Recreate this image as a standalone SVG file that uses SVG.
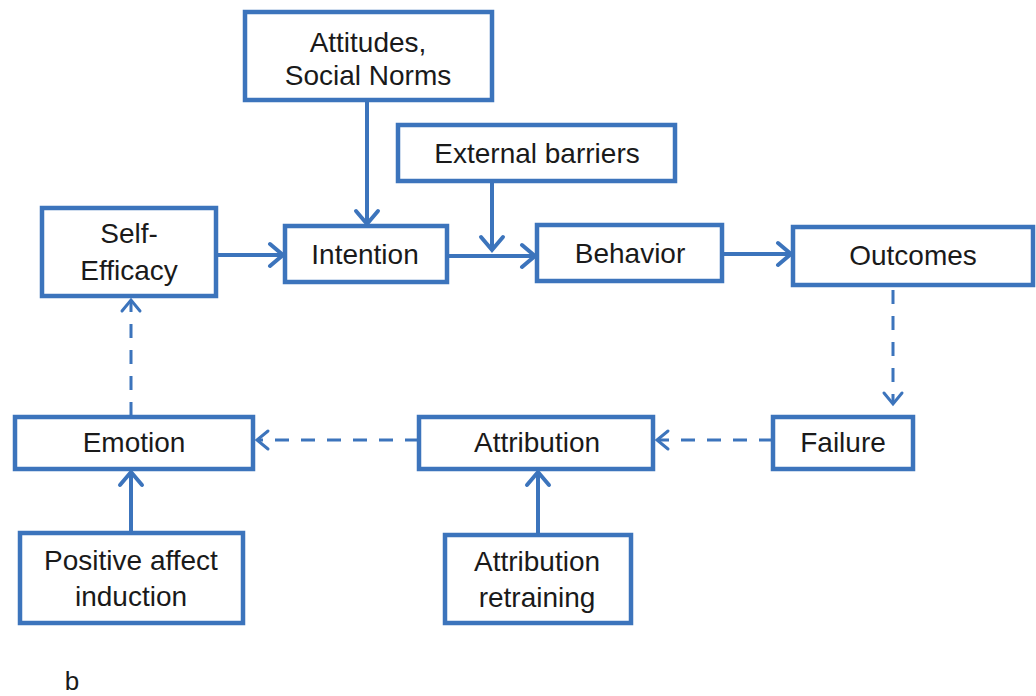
<svg xmlns="http://www.w3.org/2000/svg" width="1036" height="696" viewBox="0 0 1036 696">
<style>
.box{fill:#fff;stroke:#3c74bc;stroke-width:4.5}
.t{font-family:"Liberation Sans",Arial,sans-serif;font-size:28px;fill:#1a1a1a;text-anchor:middle}
.c{fill:none;stroke:#3c74bc;stroke-width:4}
.d{fill:none;stroke:#3c74bc;stroke-width:3;stroke-dasharray:14 12}
</style>
<defs>
<marker id="ah" markerUnits="userSpaceOnUse" viewBox="-20 -14 24 28" refX="0" refY="0" markerWidth="24" markerHeight="28" orient="auto" overflow="visible">
<path d="M-13,-11 L0,0 L-13,11" fill="none" stroke="#3c74bc" stroke-width="4" stroke-linejoin="miter" stroke-linecap="round"/>
</marker>
<marker id="ad" markerUnits="userSpaceOnUse" viewBox="-20 -14 24 28" refX="0" refY="0" markerWidth="24" markerHeight="28" orient="auto" overflow="visible">
<path d="M-11,-9 L0,0 L-11,9" fill="none" stroke="#3c74bc" stroke-width="3" stroke-linejoin="miter" stroke-linecap="round"/>
</marker>
</defs>
<rect width="1036" height="696" fill="#fff"/>
<g id="connectors">
<path class="c" d="M367,100 V224" marker-end="url(#ah)"/>
<path class="c" d="M216,255 H283" marker-end="url(#ah)"/>
<path class="c" d="M447,256 H535" marker-end="url(#ah)"/>
<path class="c" d="M492,181 V250" marker-end="url(#ah)"/>
<path class="c" d="M722,254 H791" marker-end="url(#ah)"/>
<path class="d" d="M893,290 V404" marker-end="url(#ad)"/>
<path class="d" d="M773,440 H657" marker-end="url(#ad)"/>
<path class="d" d="M419,440 H257" marker-end="url(#ad)"/>
<path class="d" d="M131,416 V300" marker-end="url(#ad)"/>
<path class="c" d="M131,533 V472" marker-end="url(#ah)"/>
<path class="c" d="M538,535 V472" marker-end="url(#ah)"/>
</g>
<g id="attitudes"><rect class="box" x="245" y="12" width="247" height="88"/><text class="t" x="368" y="52">Attitudes,</text><text class="t" x="368" y="85">Social Norms</text></g>
<g id="external"><rect class="box" x="398" y="125" width="277" height="56"/><text class="t" x="537" y="163">External barriers</text></g>
<g id="selfefficacy"><rect class="box" x="42" y="208" width="174" height="88"/><text class="t" x="129" y="243">Self-</text><text class="t" x="129" y="280">Efficacy</text></g>
<g id="intention"><rect class="box" x="285" y="226" width="162" height="56"/><text class="t" x="365" y="264">Intention</text></g>
<g id="behavior"><rect class="box" x="537" y="225" width="185" height="56"/><text class="t" x="630" y="263">Behavior</text></g>
<g id="outcomes"><rect class="box" x="793" y="227" width="240" height="58"/><text class="t" x="913" y="265">Outcomes</text></g>
<g id="emotion"><rect class="box" x="15" y="417" width="238" height="52"/><text class="t" x="134" y="452">Emotion</text></g>
<g id="attribution"><rect class="box" x="419" y="417" width="234" height="52"/><text class="t" x="537" y="452">Attribution</text></g>
<g id="failure"><rect class="box" x="773" y="417" width="140" height="52"/><text class="t" x="843" y="452">Failure</text></g>
<g id="positive"><rect class="box" x="20" y="533" width="223" height="90"/><text class="t" x="131" y="570">Positive affect</text><text class="t" x="131" y="606">induction</text></g>
<g id="retraining"><rect class="box" x="445" y="535" width="186" height="88"/><text class="t" x="537" y="571">Attribution</text><text class="t" x="537" y="607">retraining</text></g>
<text class="t" x="72" y="690" style="font-size:26px">b</text>
</svg>
